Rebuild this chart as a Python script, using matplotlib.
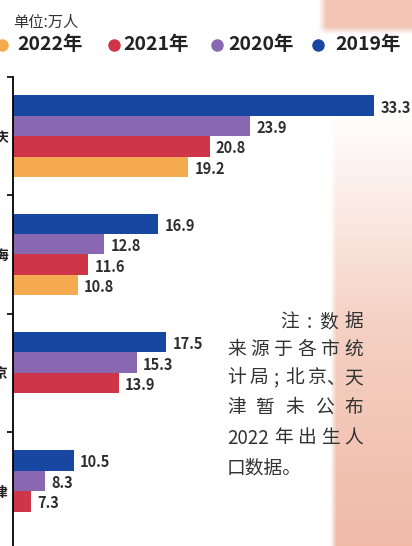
import numpy as np
import matplotlib
matplotlib.use("Agg")
import matplotlib.pyplot as plt
from matplotlib.lines import Line2D

plt.rcParams['font.family'] = ['Noto Sans CJK SC', 'DejaVu Sans']

# 数据 (单位: 万人)
cities = ['重庆', '上海', '北京', '天津']
years = ['2019年', '2020年', '2021年', '2022年']
v2019 = [33.3, 16.9, 17.5, 10.5]
v2020 = [23.9, 12.8, 15.3, 8.3]
v2021 = [20.8, 11.6, 13.9, 7.3]
v2022 = [19.2, 10.8, None, None]   # 北京、天津未公布

colors = {'2019年': '#1747a0', '2020年': '#8a67b1', '2021年': '#cf3549', '2022年': '#f6aa4f'}

W, H = 412, 546
fig = plt.figure(figsize=(W / 100, H / 100), dpi=100)

# 背景 (右侧粉色渐变)
yy, xx = np.mgrid[0:H, 0:W]
s = np.interp(yy, [0, 110, 330, 546], [0.0, 0.0, 0.45, 0.65])
edge = np.clip((xx - 330) / 6.0, 0, 1)
t = s * edge
top = np.clip((xx - 318) / 8.0, 0, 1) * np.clip((34 - yy) / 8.0, 0, 1) * 0.55
t = np.maximum(t, top)
base = np.array([232, 150, 120]) / 255.0
img = 1 - t[..., None] * (1 - base[None, None, :])
bg = fig.add_axes([0, 0, 1, 1], zorder=0)
bg.imshow(img, aspect='auto', extent=[0, W, H, 0])
bg.axis('off')

ax = fig.add_axes([13 / W, 0, 1 - 13 / W, 1 - 77 / H], zorder=1)
ax.set_facecolor('none')

y = np.arange(len(cities))
h = 0.173
series = [('2019年', v2019), ('2020年', v2020), ('2021年', v2021), ('2022年', v2022)]
for i, (name, vals) in enumerate(series):
    off = (i - 1.5) * h
    for j, v in enumerate(vals):
        if v is None:
            continue
        ax.barh(y[j] + off, v, height=h, color=colors[name], edgecolor='none')
        ax.annotate(f'{v}', (v, y[j] + off), xytext=(4.5, -1.5), textcoords='offset points',
                    ha='left', va='center', fontsize=10.5, color='#2e2e2e', fontweight='bold')

ax.set_xlim(5.9, 5.9 + (W - 13) / 13.19)
ax.set_ylim(3.464, -0.5)
for sp in ['top', 'right', 'bottom']:
    ax.spines[sp].set_visible(False)
ax.spines['left'].set_linewidth(1.3)
ax.set_xticks([])
ax.set_yticks(y)
ax.set_yticklabels(cities, fontsize=10, color='#222222', fontweight='bold')
ax.tick_params(axis='y', which='major', length=0, pad=3)
ax.set_yticks(np.arange(-0.5, 3.5, 1.0), minor=True)
ax.tick_params(axis='y', which='minor', length=4, width=1.2, direction='out')

# 单位
fig.text(13 / W, 1 - 22 / H, '单位:万人', fontsize=11, color='#333333', ha='left', va='center')

# 图例
leg_y = 1 - 45 / H
dot_x = [2, 114, 217, 318]
txt_x = [17, 123, 228, 335]
for name, dx, tx in zip(['2022年', '2021年', '2020年', '2019年'], dot_x, txt_x):
    fig.add_artist(Line2D([dx / W], [leg_y], transform=fig.transFigure, marker='o',
                          markersize=8, color=colors[name], linestyle='none'))
    fig.text(tx / W, leg_y, name, fontsize=14, fontweight='bold', color='#222222',
             ha='left', va='center')

# 注释
em = 18.75
def put_line(tokens, widths, left, right, yc):
    ws = [w * em for w in widths]
    gap = (right - left - sum(ws)) / max(len(tokens) - 1, 1)
    x = left
    for tok, w in zip(tokens, ws):
        fig.text((x + w / 2) / W, 1 - yc / H, tok, fontsize=13.5, color='#333333',
                 ha='center', va='center')
        x += w + gap

put_line(['注', ':', '数', '据'], [1, 0.5, 1, 1], 280, 363, 322)
put_line(list('来源于各市统'), [1] * 6, 227, 363, 350)
put_line(['计', '局', ';', '北', '京', '、', '天'], [1, 1, 0.5, 1, 1, 0.5, 1], 227, 363, 378)
put_line(list('津暂未公布'), [1] * 5, 227, 363, 407)
put_line(['2022', '年', '出', '生', '人'], [2.25, 1, 1, 1, 1], 227, 363, 438)
fig.text(227 / W, 1 - 468 / H, '口数据。', fontsize=13.5, color='#333333', ha='left', va='center')

fig.savefig('out.png', dpi=100)
